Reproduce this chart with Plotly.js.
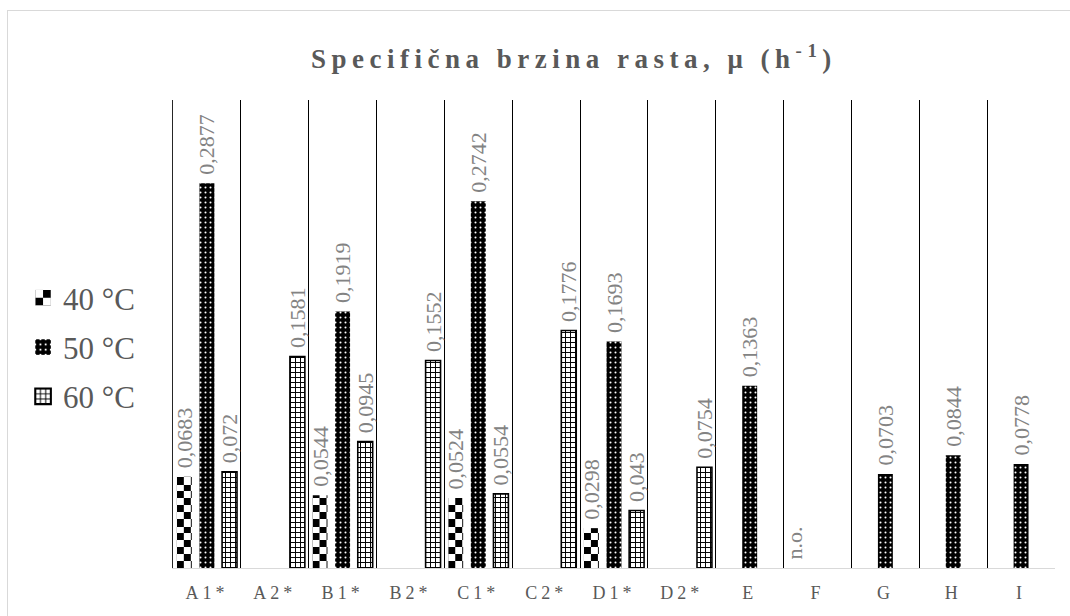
<!DOCTYPE html>
<html>
<head>
<meta charset="utf-8">
<script src="https://cdn.plot.ly/plotly-3.0.1.min.js"></script>
<style>
  html, body { margin: 0; padding: 0; background: #ffffff; overflow: hidden; }
  #frame { position: absolute; left: 7px; top: 10px; width: 1300px; height: 800px; border: 1px solid #d9d9d9; box-sizing: border-box; }
  #chart { position: absolute; left: 0; top: 0; width: 1070px; height: 616px; }
  #chart .gtitle { letter-spacing: 5.5px; }
  #chart .xtick text { letter-spacing: 4px; }
</style>
</head>
<body>
<div id="frame"></div>
<div id="chart"></div>
<script>
// ---- data ----
const categories = ['A1*', 'A2*', 'B1*', 'B2*', 'C1*', 'C2*', 'D1*', 'D2*', 'E', 'F', 'G', 'H', 'I'];
const seriesNames = ['40 °C', '50 °C', '60 °C'];
const mu40 = [0.0683, null, 0.0544, null, 0.0524, null, 0.0298, null, null, 0, null, null, null];
const mu50 = [0.2877, null, 0.1919, null, 0.2742, null, 0.1693, null, 0.1363, null, 0.0703, 0.0844, 0.0778];
const mu60 = [0.072, 0.1581, 0.0945, 0.1552, 0.0554, 0.1776, 0.043, 0.0754, null, null, null, null, null];
const notObserved = ['', '', '', '', '', '', '', '', '', 'n.o.', '', '', ''];

function labels(vals, extra) {
  return vals.map((v, i) => {
    let s = '';
    if (extra && extra[i]) s = extra[i];
    else if (v != null) s = String(v).replace('.', ',');
    return s ? '\u00a0' + s : '';
  });
}

const serif = 'Liberation Serif, Times New Roman, serif';
const labelFont = { family: serif, size: 22, color: '#838383' };

const common = {
  type: 'bar',
  x: categories,
  textposition: 'outside',
  textangle: -90,
  constraintext: 'none',
  cliponaxis: false,
  textfont: labelFont,
  hoverinfo: 'skip'
};

const traces = [
  Object.assign({}, common, {
    name: seriesNames[0], legendgroup: 'a',
    y: mu40, text: labels(mu40, notObserved),
    marker: { color: '#000000', line: { width: 0 },
      pattern: { shape: '.', fgcolor: '#000000', bgcolor: '#ffffff', size: 7, solidity: 0.5 } }
  }),
  Object.assign({}, common, {
    name: seriesNames[1], legendgroup: 'b',
    y: mu50, text: labels(mu50),
    marker: { color: '#000000', line: { width: 0 },
      pattern: { shape: '.', fgcolor: '#ffffff', bgcolor: '#000000', size: 5, solidity: 0.13, fillmode: 'replace' } }
  }),
  Object.assign({}, common, {
    name: seriesNames[2], legendgroup: 'c',
    y: mu60, text: labels(mu60),
    marker: { color: '#ffffff', line: { width: 1.6, color: '#000000' },
      pattern: { shape: '+', fgcolor: '#000000', bgcolor: '#ffffff', size: 5, solidity: 0.35, fillmode: 'replace' } }
  })
];

const layout = {
  width: 1070,
  height: 616,
  margin: { l: 173, r: 15, t: 100, b: 48 },
  paper_bgcolor: 'rgba(0,0,0,0)',
  plot_bgcolor: 'rgba(0,0,0,0)',
  separators: ', ',
  barmode: 'group',
  bargap: 0,
  bargroupgap: 0.34,
  showlegend: true,
  title: {
    text: 'Specifična brzina rasta, μ (h<sup>-1</sup>)',
    font: { family: serif, size: 27, color: '#595959', weight: 'bold' },
    xref: 'paper', x: 0.4546, xanchor: 'center',
    yref: 'container', y: 0.905, yanchor: 'middle'
  },
  legend: {
    x: -0.17, xanchor: 'left',
    y: 0.472, yanchor: 'middle',
    traceorder: 'grouped',
    tracegroupgap: 6,
    font: { family: serif, size: 31, color: '#595959' },
    bgcolor: 'rgba(0,0,0,0)'
  },
  xaxis: {
    type: 'category',
    tickson: 'boundaries',
    showgrid: true,
    gridcolor: '#000000',
    gridwidth: 1,
    ticks: '',
    ticklabelstandoff: 8,
    showline: true,
    linecolor: '#d9d9d9',
    linewidth: 1,
    tickfont: { family: serif, size: 18, color: '#595959' },
    fixedrange: true
  },
  yaxis: {
    range: [0, 0.35],
    showgrid: false,
    zeroline: false,
    showticklabels: false,
    ticks: '',
    showline: true,
    linecolor: '#262626',
    linewidth: 1,
    fixedrange: true
  }
};

function ensurePattern(defs, id, x, y, cell) {
  const ns = 'http://www.w3.org/2000/svg';
  let p = document.getElementById(id);
  if (p) p.remove();
  p = document.createElementNS(ns, 'pattern');
  p.setAttribute('id', id);
  p.setAttribute('patternUnits', 'userSpaceOnUse');
  p.setAttribute('x', x);
  p.setAttribute('y', y);
  p.setAttribute('width', 2 * cell);
  p.setAttribute('height', 2 * cell);
  const bg = document.createElementNS(ns, 'rect');
  bg.setAttribute('x', 0); bg.setAttribute('y', 0);
  bg.setAttribute('width', 2 * cell); bg.setAttribute('height', 2 * cell);
  bg.setAttribute('fill', '#ffffff');
  p.appendChild(bg);
  [[cell, 0], [0, cell]].forEach(([rx, ry]) => {
    const r = document.createElementNS(ns, 'rect');
    r.setAttribute('x', rx); r.setAttribute('y', ry);
    r.setAttribute('width', cell); r.setAttribute('height', cell);
    r.setAttribute('fill', '#000000');
    p.appendChild(r);
  });
  defs.appendChild(p);
}

function applyChecker(gd) {
  const svg = gd.querySelector('svg.main-svg');
  const defs = svg.querySelector('defs');
  const barTraces = gd.querySelectorAll('.barlayer .trace.bars');
  if (barTraces.length) {
    const paths = barTraces[0].querySelectorAll('g.point > path');
    paths.forEach((pth, i) => {
      const bb = pth.getBBox();
      if (bb.height < 0.5) return;
      const id = 'chk40_' + i;
      ensurePattern(defs, id, bb.x, bb.y + bb.height, 7);
      pth.style.fill = 'url(#' + id + ')';
    });
  }
  const legendItems = gd.querySelectorAll('.legend .traces');
  legendItems.forEach((item, k) => {
    const lp = item.querySelector('.legendpoints path');
    if (!lp) return;
    const old = lp.getAttribute('transform') || '';
    lp.setAttribute('transform', (old + ' scale(1.3)').trim());
    if (k === 0) {
      const bb = lp.getBBox();
      ensurePattern(defs, 'chk40_leg', bb.x, bb.y, bb.width / 2);
      lp.style.fill = 'url(#chk40_leg)';
    }
  });
}

const gd = document.getElementById('chart');
Plotly.newPlot(gd, traces, layout, { displayModeBar: false, responsive: false }).then(() => {
  applyChecker(gd);
});
</script>
</body>
</html>
